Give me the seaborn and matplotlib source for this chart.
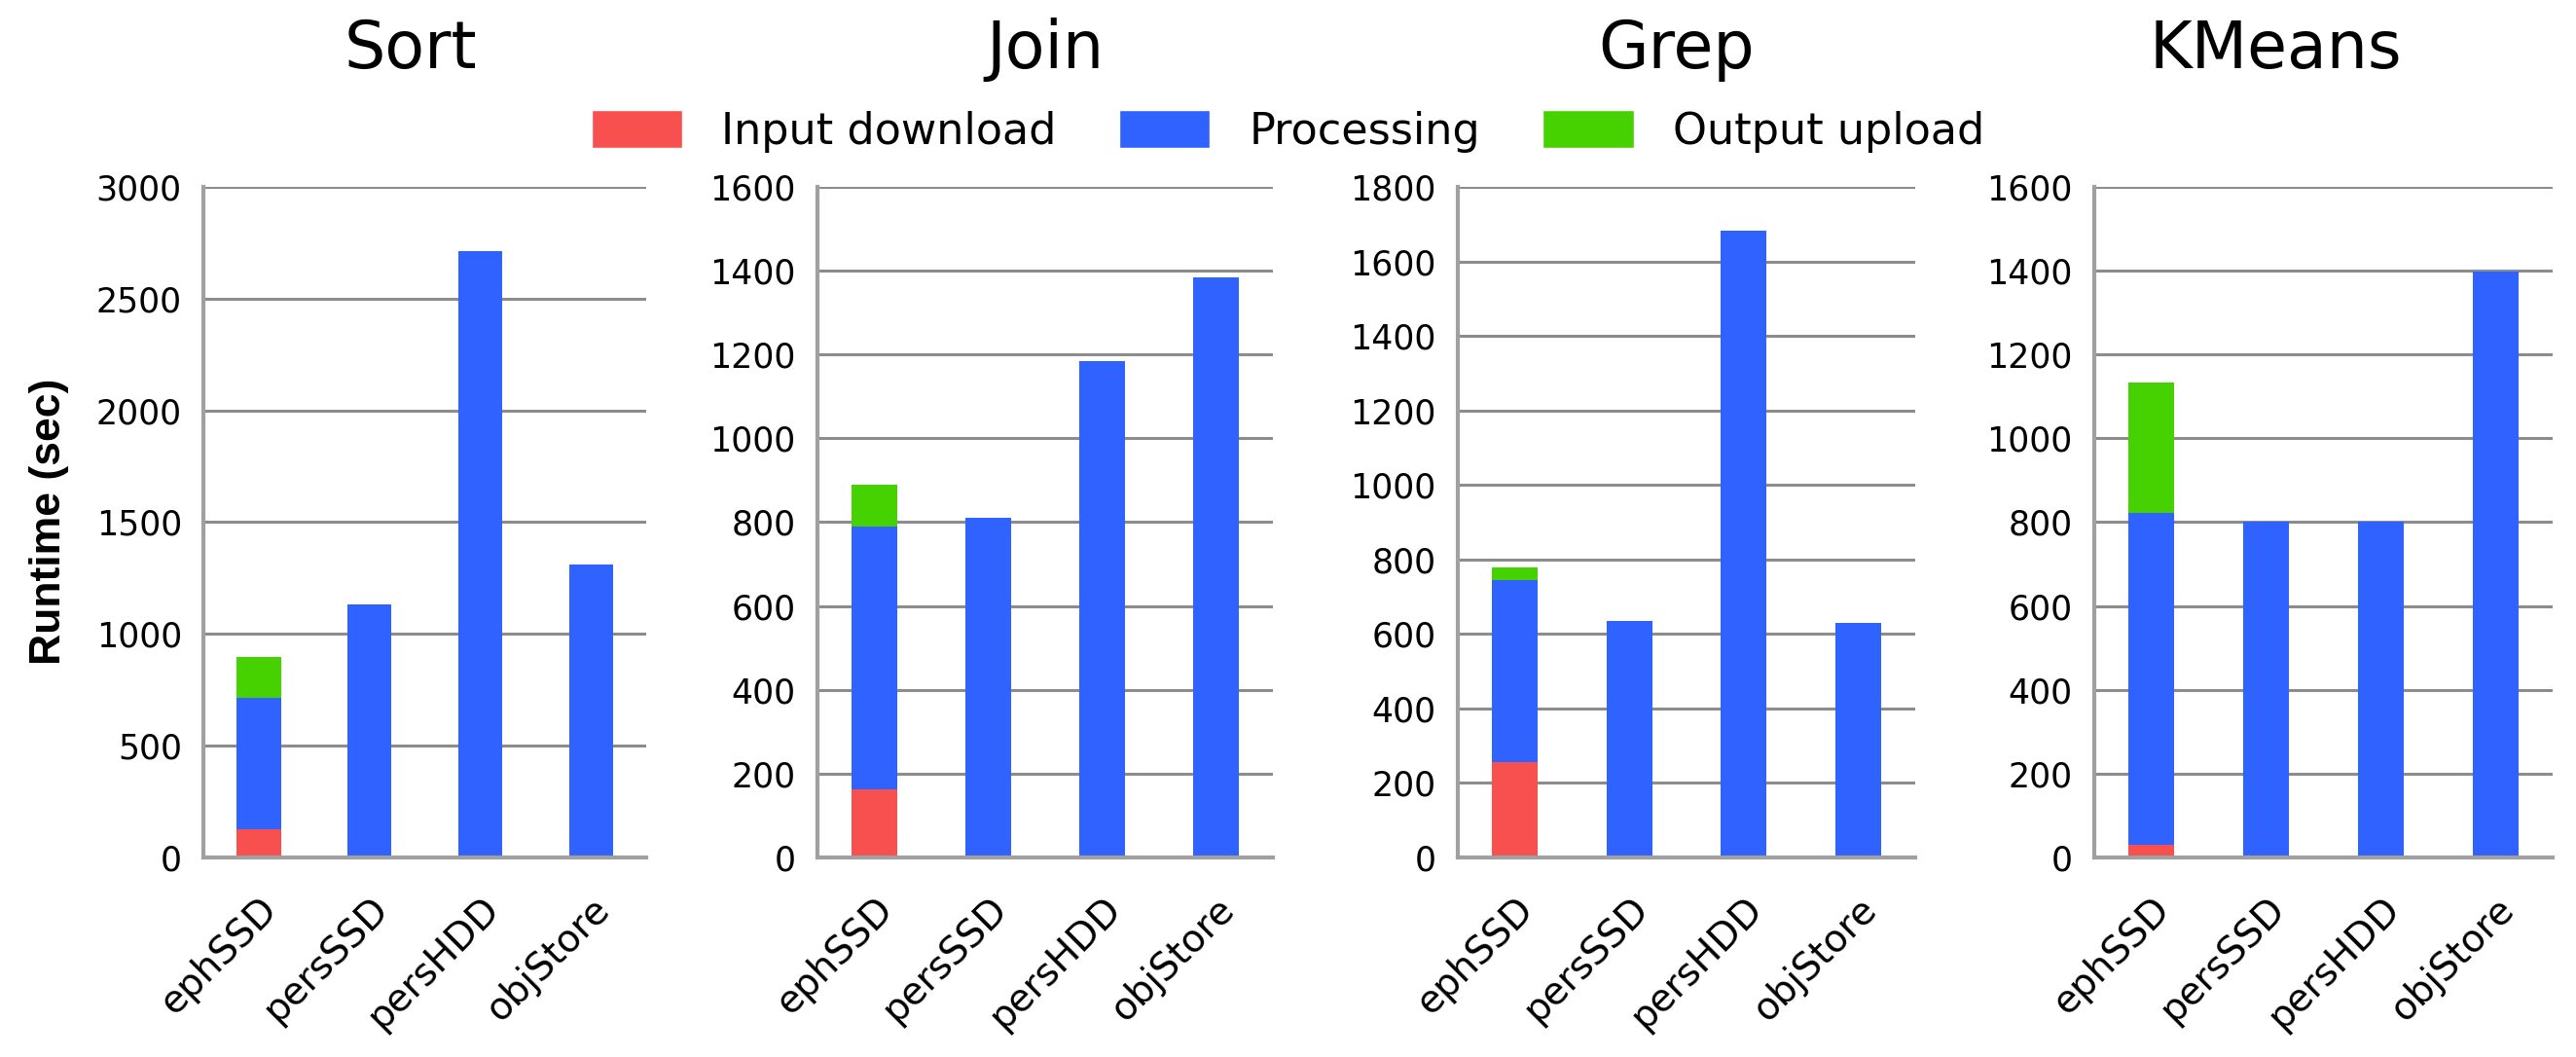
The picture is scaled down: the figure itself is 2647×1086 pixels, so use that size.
import matplotlib
matplotlib.use("Agg")
import matplotlib.pyplot as plt
from matplotlib.patches import Patch
import numpy as np
import pandas as pd
import seaborn as sns

storage = ["ephSSD", "persSSD", "persHDD", "objStore"]
workloads = ["Sort", "Join", "Grep", "KMeans"]

# runtime components (sec)
sort_input = [125, 0, 0, 0]
sort_proc = [589, 1131, 2714, 1312]
sort_output = [182, 0, 0, 0]

join_input = [162, 0, 0, 0]
join_proc = [627, 811, 1184, 1383]
join_output = [100, 0, 0, 0]

grep_input = [257, 0, 0, 0]
grep_proc = [487, 635, 1682, 629]
grep_output = [35, 0, 0, 0]

kmeans_input = [31, 0, 0, 0]
kmeans_proc = [791, 802, 802, 1398]
kmeans_output = [311, 0, 0, 0]

y_max = [3000, 1600, 1800, 1600]
y_step = [500, 200, 200, 200]

components = {
    "Sort": (sort_input, sort_proc, sort_output),
    "Join": (join_input, join_proc, join_output),
    "Grep": (grep_input, grep_proc, grep_output),
    "KMeans": (kmeans_input, kmeans_proc, kmeans_output),
}

red = "#F84F4F"
blue = "#2F62FE"
green = "#46D100"
grid_gray = "#8C8C8C"

sns.set_style("white")
plt.rcParams["font.family"] = ["DejaVu Sans"]
plt.rcParams["text.color"] = "black"
plt.rcParams["xtick.labelcolor"] = "black"
plt.rcParams["ytick.labelcolor"] = "black"

fig = plt.figure(figsize=(26.47, 10.86), dpi=100)

# axes boxes [left, bottom, width, height] in figure fraction
boxes = [
    [0.0790, 0.1888, 0.1719, 0.6344],
    [0.3173, 0.1888, 0.1768, 0.6344],
    [0.5659, 0.1888, 0.1776, 0.6344],
    [0.8130, 0.1888, 0.1779, 0.6344],
]
title_x = [0.1594, 0.4057, 0.6509, 0.8833]

for i, name in enumerate(workloads):
    inp, proc, out = components[name]
    df = pd.DataFrame({"storage": storage, "input": inp, "proc": proc, "output": out})
    df["lvl1"] = df["input"]
    df["lvl2"] = df["input"] + df["proc"]
    df["lvl3"] = df["lvl2"] + df["output"]

    ax = fig.add_axes(boxes[i])
    # stacked bars: draw cumulative totals back to front
    for col, c in [("lvl3", green), ("lvl2", blue), ("lvl1", red)]:
        sns.barplot(data=df, x="storage", y=col, order=storage, color=c,
                    saturation=1, width=0.4, errorbar=None, ax=ax, zorder=3,
                    linewidth=0)

    ax.set_xlim(-0.5, 3.5)
    ax.set_ylim(0, y_max[i])
    ax.set_yticks(np.arange(0, y_max[i] + 1, y_step[i]))
    ax.yaxis.grid(True, color=grid_gray, linewidth=2.2, zorder=0)
    ax.set_axisbelow(True)
    ax.set_xlabel("")
    ax.set_ylabel("")

    ax.set_xticks(range(4))
    ax.set_xticklabels(storage, rotation=45, ha="right", rotation_mode="anchor",
                       fontsize=28)
    ax.set_xticks(np.arange(-0.5, 4, 1), minor=True)
    ax.tick_params(axis="x", which="major", length=0, pad=24)
    ax.tick_params(axis="x", which="minor", length=8, width=2, color=grid_gray,
                   direction="out")
    ax.tick_params(axis="y", length=8, width=2, color=grid_gray, labelsize=25, pad=8)
    for s in ["top", "right"]:
        ax.spines[s].set_visible(False)
    for s in ["left", "bottom"]:
        ax.spines[s].set_color("#A0A0A0")
        ax.spines[s].set_linewidth(3)
    ax.spines["bottom"].set_zorder(4)

    fig.text(title_x[i], 0.9355, name, ha="center", va="baseline", fontsize=48)

fig.text(0.019, 0.507, "Runtime (sec)", rotation=90, ha="center", va="center",
         fontsize=32, fontweight="bold", family="Liberation Sans")

handles = [Patch(facecolor=red, label="Input download"),
           Patch(facecolor=blue, label="Processing"),
           Patch(facecolor=green, label="Output upload")]
fig.legend(handles=handles, loc="center", bbox_to_anchor=(0.5, 0.876), ncol=3,
           frameon=False, fontsize=32, handlelength=2.1, handleheight=1.0,
           handletextpad=0.9, columnspacing=1.45)

fig.savefig("out.png", dpi=100)
